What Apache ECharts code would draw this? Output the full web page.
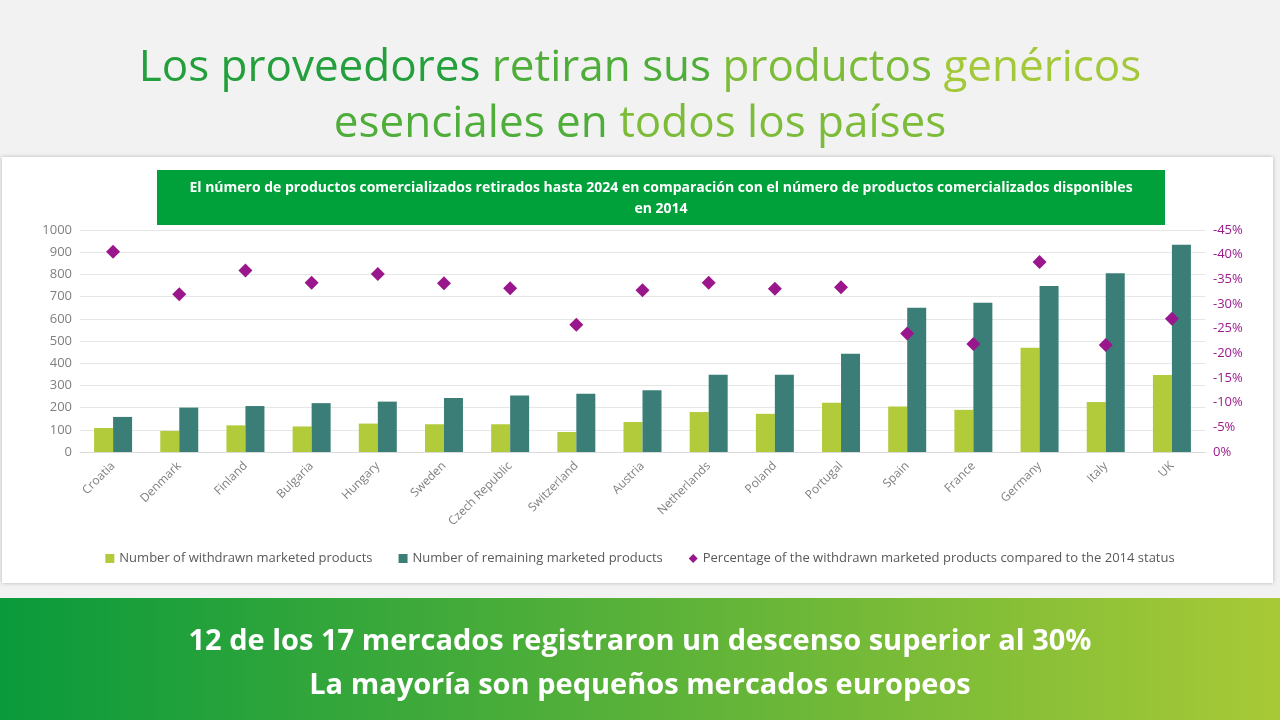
<!DOCTYPE html>
<html><head><meta charset="utf-8">
<script src="https://cdn.jsdelivr.net/npm/echarts@6/dist/echarts.min.js"></script>
<style>html,body{margin:0;padding:0;background:#f2f2f2}#c{width:1280px;height:720px}</style>
</head><body><div id="c"></div>
<script>
const categories = ["Croatia","Denmark","Finland","Bulgaria","Hungary","Sweden","Czech Republic","Switzerland","Austria","Netherlands","Poland","Portugal","Spain","France","Germany","Italy","UK"];
const withdrawn = [108,95,120,115,128,125,125,90,135,180,172,222,205,190,470,225,347];
const remaining = [158,200,207,220,227,243,255,262,278,348,348,443,650,672,748,805,933];
const pctWithdrawn = [40.6,32.0,36.8,34.3,36.1,34.2,33.2,25.8,32.8,34.3,33.1,33.4,24.0,21.9,38.5,21.7,27.0];

const chart = echarts.init(document.getElementById('c'));
const grad = (c1,c2)=>({type:'linear',x:0,y:0,x2:1,y2:0,colorStops:[{offset:0,color:c1},{offset:1,color:c2}]});
const tf = '44px "Open Sans", sans-serif';
chart.setOption({
  backgroundColor:'#f2f2f2',
  graphic:[
    {type:'rect',left:2,top:157,shape:{width:1271,height:426},style:{fill:'#fff',shadowBlur:4,shadowColor:'rgba(0,0,0,0.25)'},z:-10},
    {type:'text',x:640,y:40,style:{text:'{a|Los proveedores }{b|retiran sus }{c|productos }{d|genéricos}\n{b|esenciales en }{c|todos los países}',align:'center',lineHeight:56,
      rich:{a:{font:tf,fill:'#23a03c',lineHeight:56},b:{font:tf,fill:'#4fae3a',lineHeight:56},c:{font:tf,fill:'#7cbc39',lineHeight:56},d:{font:tf,fill:'#a3c83a',lineHeight:56}}}},
    {type:'rect',left:157,top:170,shape:{width:1008,height:55},style:{fill:'#00a13a'}},
    {type:'text',x:661,y:178,style:{text:'El número de productos comercializados retirados hasta 2024 en comparación con el número de productos comercializados disponibles\nen 2014',font:'bold 14px "Open Sans", sans-serif',lineHeight:21,align:'center',fill:'#fff'}},
    {type:'rect',left:0,top:598,shape:{width:1280,height:122},style:{fill:grad('#0a9a3c','#a8c936')}},
    {type:'text',x:640,y:620,style:{text:'12 de los 17 mercados registraron un descenso superior al 30%\nLa mayoría son pequeños mercados europeos',font:'bold 29px "Open Sans", sans-serif',lineHeight:44,align:'center',fill:'#fff'}}
  ],
  grid:{left:80,right:75,top:230,bottom:268},
  legend:{bottom:150,left:'center',itemGap:26,itemWidth:9,itemHeight:9,textStyle:{color:'#595959',fontSize:13,fontFamily:'Open Sans'},
    data:[{name:'Number of withdrawn marketed products',icon:'rect'},{name:'Number of remaining marketed products',icon:'rect'},{name:'Percentage of the withdrawn marketed products compared to the 2014 status',icon:'diamond'}]},
  xAxis:{type:'category',data:categories,axisTick:{show:false},axisLine:{lineStyle:{color:'#d9d9d9'}},
    axisLabel:{rotate:45,color:'#7f7f7f',fontSize:12,fontFamily:'Open Sans',margin:12}},
  yAxis:[
    {type:'value',min:0,max:1000,interval:100,axisLabel:{color:'#7f7f7f',fontSize:13,fontFamily:'Open Sans',formatter:v=>String(v)},splitLine:{lineStyle:{color:'#e6e6e6'}}},
    {type:'value',min:0,max:45,interval:5,axisLabel:{color:'#9b1b8e',fontSize:13,fontFamily:'Open Sans',formatter:v=>v===0?'0%':'-'+v+'%'},splitLine:{show:false}}
  ],
  series:[
    {name:'Number of withdrawn marketed products',type:'bar',data:withdrawn,itemStyle:{color:'#b2cb3b'},barWidth:19,barGap:'0%'},
    {name:'Number of remaining marketed products',type:'bar',data:remaining,itemStyle:{color:'#3b7e78'},barWidth:19},
    {name:'Percentage of the withdrawn marketed products compared to the 2014 status',type:'scatter',yAxisIndex:1,data:pctWithdrawn,symbol:'diamond',symbolSize:14,itemStyle:{color:'#9a168c',opacity:1}}
  ]
});
</script></body></html>
